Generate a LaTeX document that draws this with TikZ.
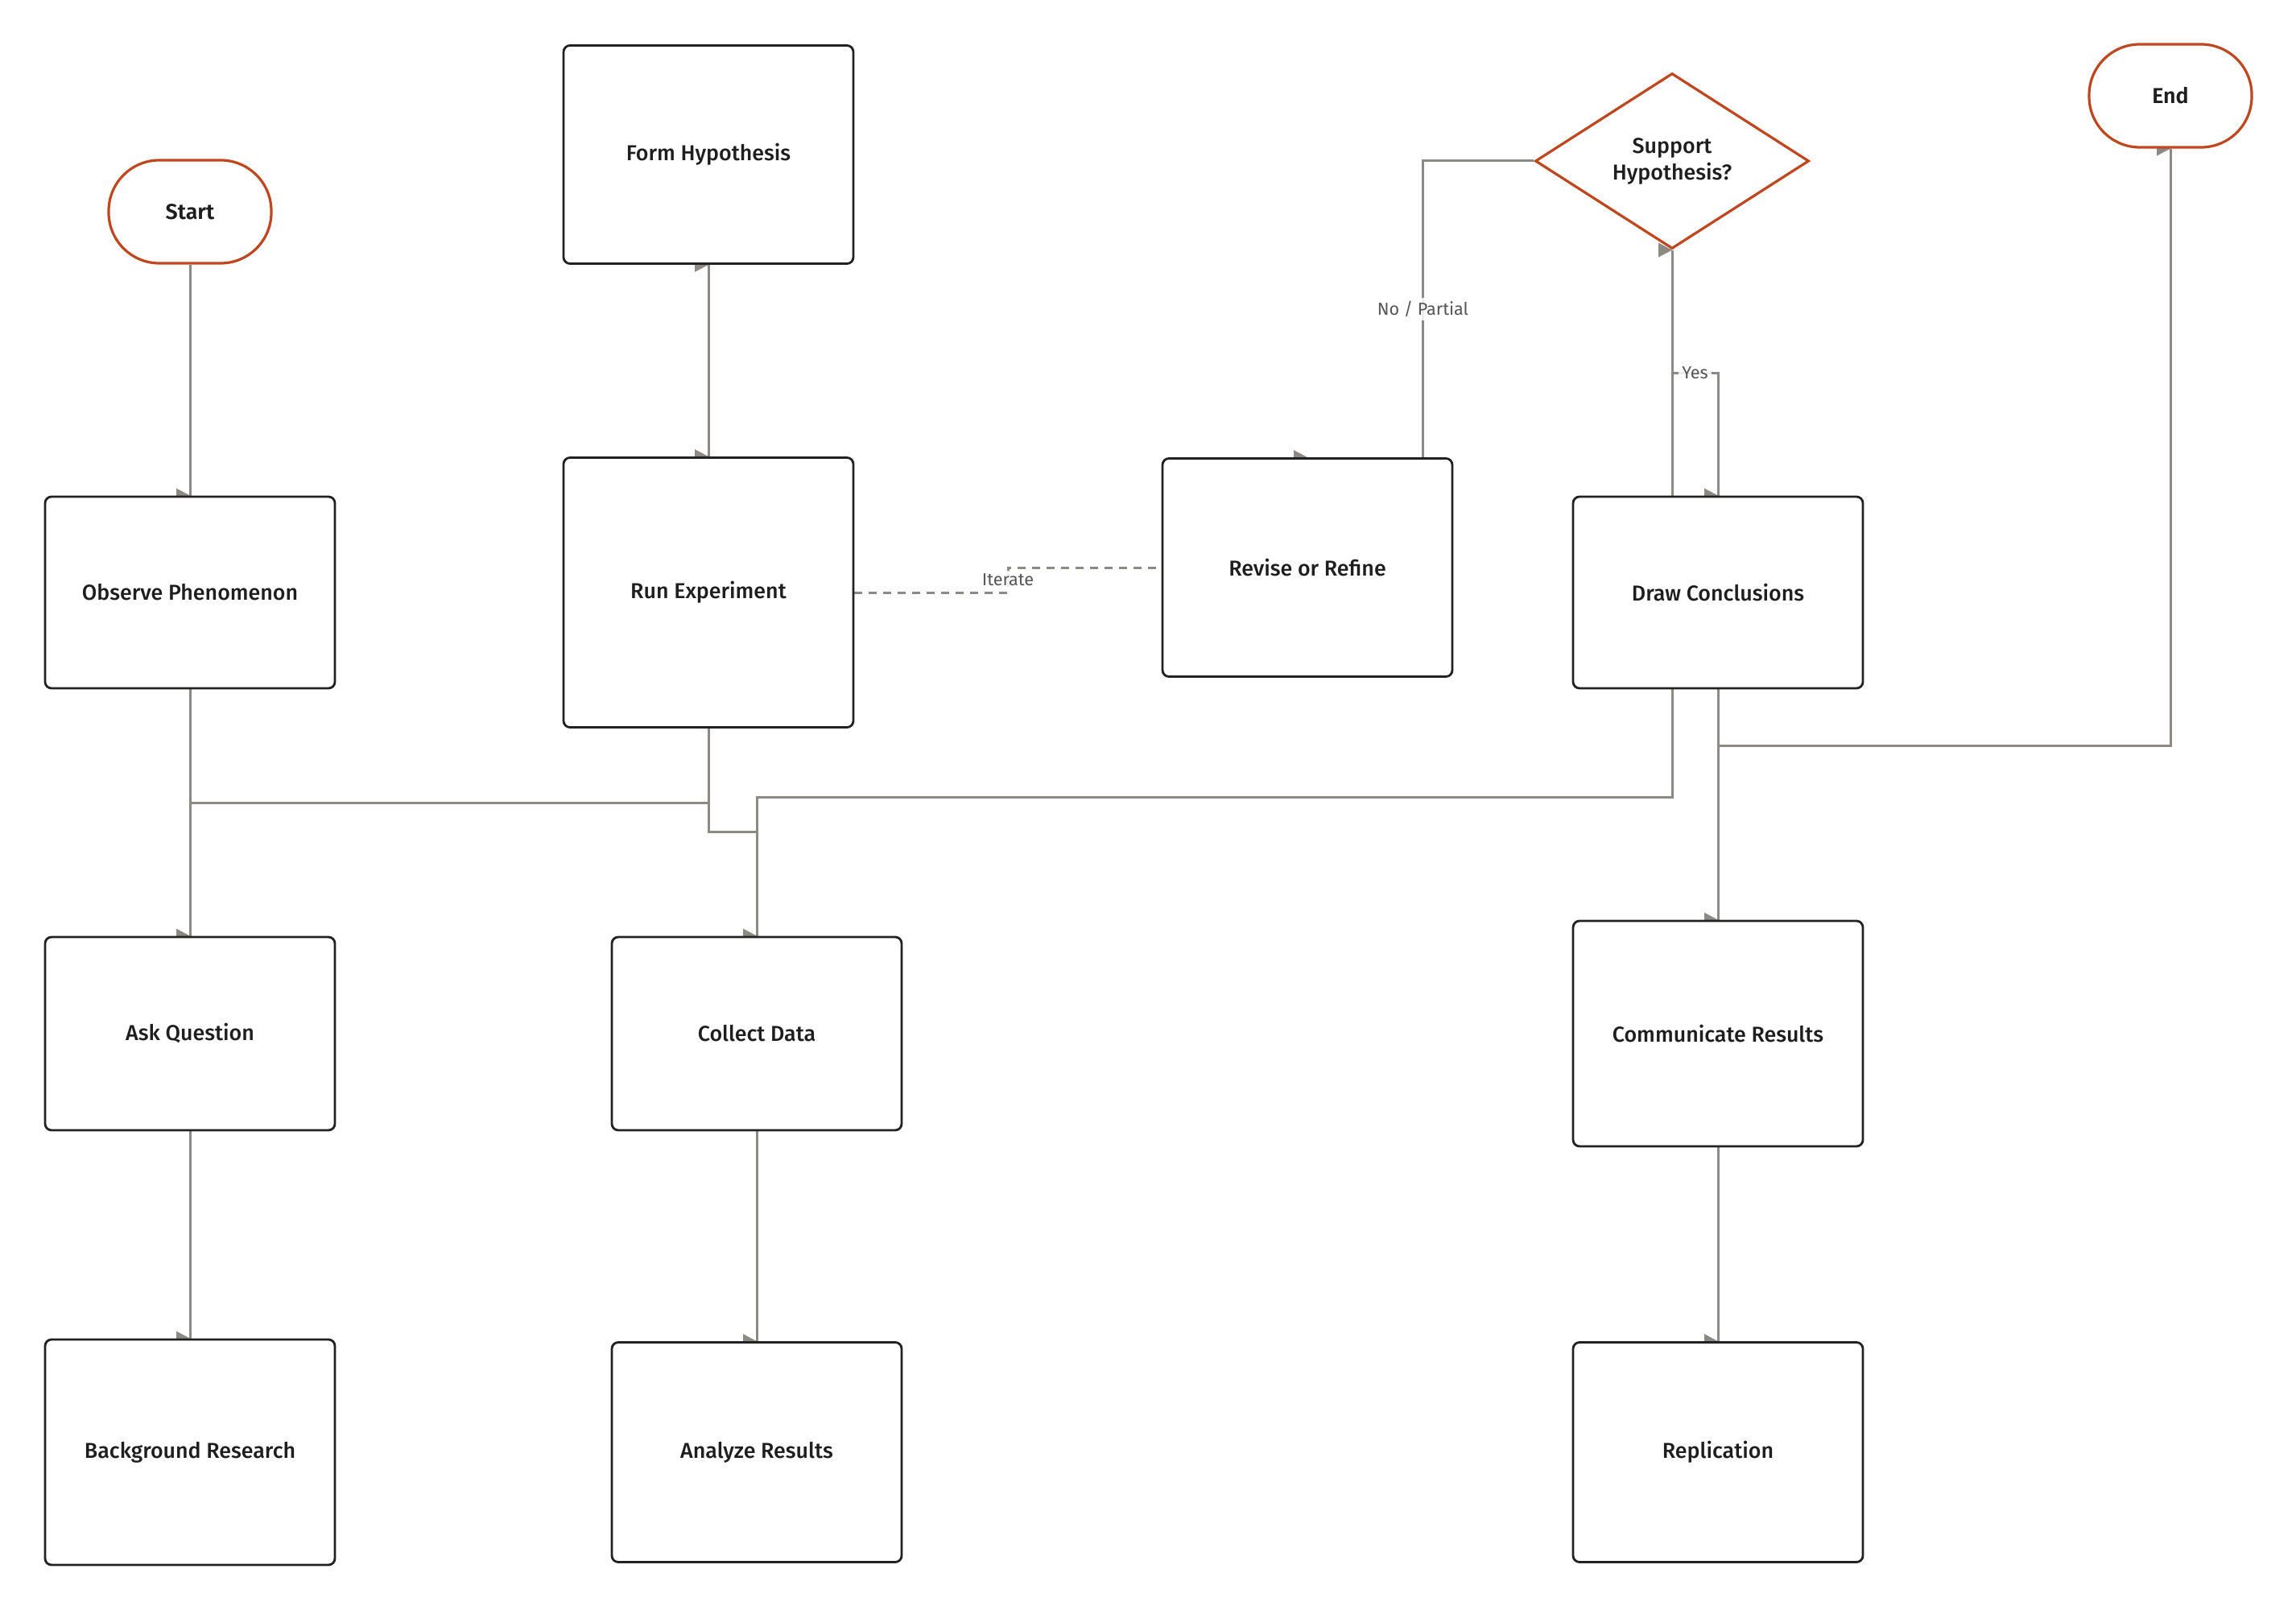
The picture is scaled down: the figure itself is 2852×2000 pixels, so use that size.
\documentclass[tikz,border=0pt]{standalone}
\usepackage{fontspec}
\setmainfont{Fira Sans}
\newfontfamily\medfont{Fira Sans Medium}
\newfontfamily\semifont{Fira Sans SemiBold}
\usetikzlibrary{shapes.geometric,calc,backgrounds}
\definecolor{termred}{HTML}{C0461E}
\definecolor{boxline}{HTML}{222222}
\definecolor{edgegray}{HTML}{8C8A82}
\definecolor{labelgray}{HTML}{555555}
\definecolor{ink}{HTML}{1E1E1E}
\begin{document}
\begin{tikzpicture}[x=0.5pt,y=0.5pt]
\tikzstyle{every node}+=[inner sep=0pt]
\tikzstyle{stepbox}=[draw=boxline, line width=1.4pt, fill=white, rounded corners=4pt, minimum width=180pt, text=ink, font=\medfont\fontsize{13.4}{16}\selectfont]
\tikzstyle{terminal}=[draw=termred, line width=1.6pt, fill=white, rounded corners=31.5pt, minimum width=101pt, minimum height=64pt, text=ink, font=\semifont\fontsize{13.4}{16}\selectfont]
\tikzstyle{decision}=[diamond, aspect=1.56, draw=termred, line width=1.6pt, fill=white, minimum width=170pt, minimum height=109pt, align=center, text=ink, font=\medfont\fontsize{13.4}{16.5}\selectfont]
\tikzstyle{flow}=[draw=edgegray, line width=1.5pt]
\tikzstyle{flowlabel}=[fill=white, fill opacity=0.85, text opacity=1, inner sep=2pt, text=labelgray, font=\fontsize{10.8}{12}\selectfont]
\useasboundingbox (0,0) rectangle (2852,-2000);
\node [terminal] (start) at (236,-263) {Start};
\node [terminal] (finish) at (2696,-119) {End};
\node [stepbox, minimum height=135.5pt] (form) at (880,-192) {Form Hypothesis};
\node [decision] (support) at (2077,-200) {Support\\Hypothesis?};
\node [stepbox, minimum height=119pt] (observe) at (236,-736) {Observe Phenomenon};
\node [stepbox, minimum height=167.5pt] (run) at (880,-736) {Run Experiment};
\node [stepbox, minimum height=135.5pt] (revise) at (1624,-705) {Revise or Refine};
\node [stepbox, minimum height=119pt] (conclude) at (2134,-736) {Draw Conclusions};
\node [stepbox, minimum height=120pt] (ask) at (236,-1284) {Ask Question};
\node [stepbox, minimum height=120pt] (collect) at (940,-1284) {Collect Data};
\node [stepbox, minimum height=140pt] (communicate) at (2134,-1284) {Communicate Results};
\node [stepbox, minimum height=140pt] (research) at (236,-1804) {Background Research};
\node [stepbox, minimum height=136.5pt] (analyze) at (940,-1804) {Analyze Results};
\node [stepbox, minimum height=136.5pt] (replicate) at (2134,-1804) {Replication};
\begin{pgfonlayer}{background}
\draw [flow] (start) -- (observe);
\draw [flow] (observe) -- (ask);
\draw [flow] (ask) -- (research);
\draw [flow] (form) -- (run);
\draw [flow] (run.south) -- (run.south |- 0,-997) -| (ask.north);
\draw [flow] (run.south) -- (run.south |- 0,-1033) -| (collect.north);
\draw [flow] (collect) -- (analyze);
\draw [flow] (collect.north) |- (support.south |- 0,-990) -- (support.south);
\draw [flow] (conclude) -- (communicate);
\draw [flow] (communicate) -- (replicate);
\draw [flow] (conclude.south) -- (conclude.south |- 0,-926) -| (finish.south);
\draw [flow] (support.west) -| node [flowlabel, pos=0.75] {No / Partial} ([xshift=-19pt]revise.north east);
\draw [flow] (support.south) |- ($(support.south)!0.5!(conclude.north)$) node [flowlabel] {Yes} -| (conclude.north);
\draw [flow, dash pattern=on 5pt off 4pt] (run.east) -| ($(run.east)!0.5!(revise.west)$) node [flowlabel] {Iterate} |- (revise.west);
\foreach \tip in {observe.north, ask.north, research.north, run.north, form.south, collect.north, analyze.north, communicate.north, replicate.north, finish.south, revise.north, conclude.north, support.south}
  \fill [edgegray] (\tip) -- ++(-17,9) -- ++(0,-18) -- cycle;
\end{pgfonlayer}
\end{tikzpicture}
\end{document}
